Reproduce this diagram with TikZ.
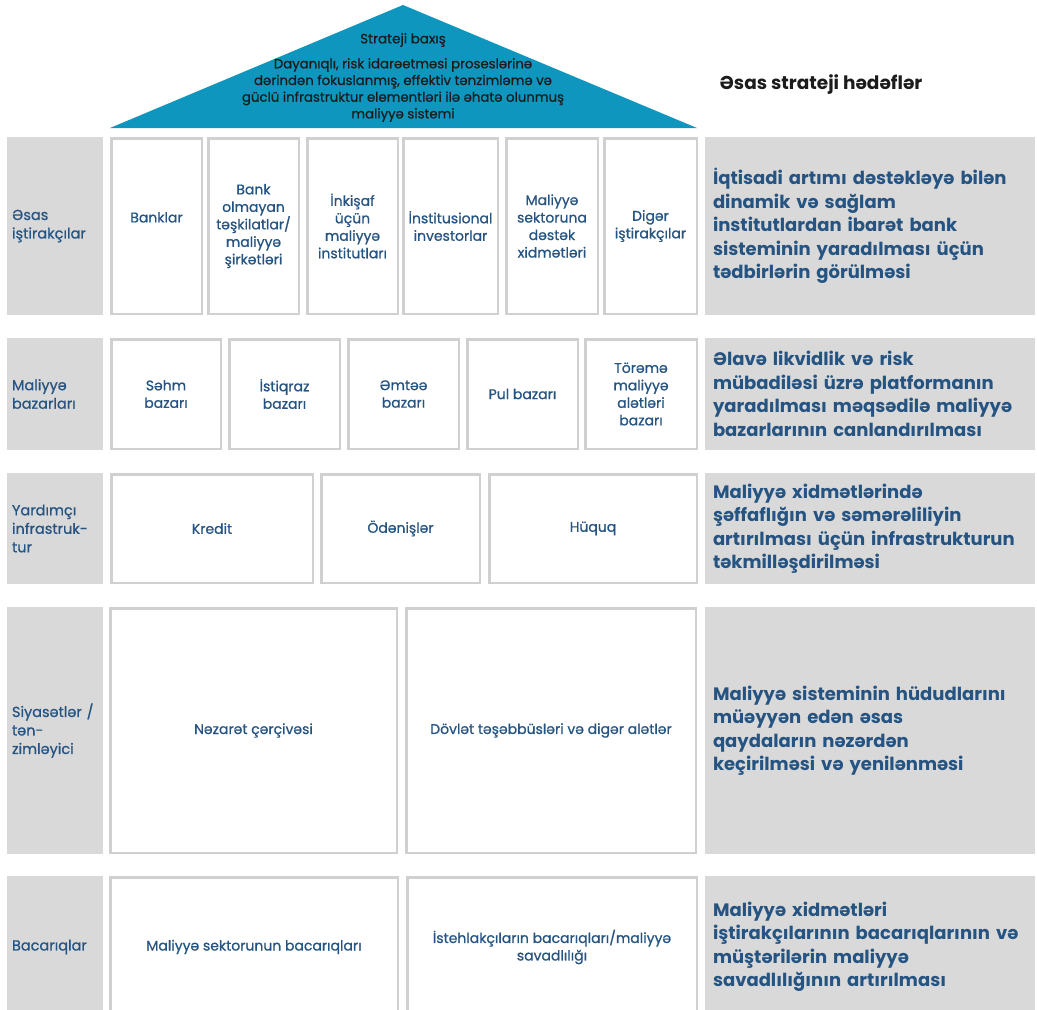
\documentclass[tikz,border=0pt]{standalone}
\usepackage{fontspec}
\setmainfont{Poppins}
\newfontfamily\mediumfont{Poppins}[FakeBold=0.8]
\usetikzlibrary{positioning}
\definecolor{roofblue}{RGB}{14,150,190}
\definecolor{textblue}{RGB}{38,84,130}
\definecolor{panelgrey}{RGB}{217,217,217}
\definecolor{edgegrey}{RGB}{208,208,208}
\definecolor{darktext}{RGB}{28,28,28}

\begin{document}
\begin{tikzpicture}[x=1pt, y=-1pt,
    lbl/.style={fill=panelgrey, inner sep=0pt, minimum width=96pt, text width=86pt, align=left, text=textblue, font=\mediumfont\fontsize{14.5}{18.5}\selectfont},
    cell/.style={draw=edgegrey, line width=2.5pt, fill=white, inner sep=1pt, align=center, text=textblue, font=\mediumfont\fontsize{14}{17.5}\selectfont},
    goal/.style={fill=panelgrey, inner xsep=8pt, inner ysep=0pt, minimum width=330pt, text width=314pt, align=left, text=textblue, font=\bfseries\fontsize{18}{23.5}\selectfont},
]
    \useasboundingbox (0,0) rectangle (1037,1010);

    % roof
    \fill[roofblue] (110,128) -- (403,5) -- (697,128) -- cycle;
    \node[text=darktext, font=\mediumfont\fontsize{13.5}{16}\selectfont] (vision) at (403,40) {Strateji baxış};
    \node[text=darktext, align=center, font=\mediumfont\fontsize{13.3}{16.7}\selectfont] (visiontext) at (403,90)
        {Dayanıqlı, risk idarəetməsi proseslərinə\\dərindən fokuslanmış, effektiv tənzimləmə və\\güclü infrastruktur elementləri ilə əhatə olunmuş\\maliyyə sistemi};
    \node[anchor=west, text=darktext, font=\bfseries\fontsize{18.5}{22}\selectfont] (goals) at (716,85) {Əsas strateji hədəflər};

    % row 1
    \node[lbl, minimum height=178pt] (l1) at (55,226) {Əsas\\iştirakçılar};
    \node[cell, minimum width=90.5pt, minimum height=175.5pt] (p1) at (156.5,226) {Banklar\\~};
    \node[cell, minimum width=90.5pt, minimum height=175.5pt] (p2) at (253.5,226) {Bank\\olmayan\\təşkilatlar/\\maliyyə\\şirkətləri};
    \node[cell, minimum width=90.5pt, minimum height=175.5pt] (p3) at (352.5,226) {İnkişaf\\üçün\\maliyyə\\institutları};
    \node[cell, minimum width=94.5pt, minimum height=175.5pt] (p4) at (450.5,226) {İnstitusional\\investorlar};
    \node[cell, minimum width=91.5pt, minimum height=175.5pt] (p5) at (552,226) {Maliyyə\\sektoruna\\dəstək\\xidmətləri};
    \node[cell, minimum width=92.5pt, minimum height=175.5pt] (p6) at (650.5,226) {Digər\\iştirakçılar};
    \node[goal, minimum height=178pt] (h1) at (870,226)
        {İqtisadi artımı dəstəkləyə bilən\\dinamik və sağlam\\institutlardan ibarət bank\\sisteminin yaradılması üçün\\tədbirlərin görülməsi};

    % row 2
    \node[lbl, minimum height=112pt] (l2) at (55,394) {Maliyyə\\bazarları};
    \node[cell, minimum width=109.5pt, minimum height=109.5pt] (m1) at (166,394) {Səhm\\bazarı};
    \node[cell, minimum width=110.5pt, minimum height=109.5pt] (m2) at (284.5,394) {İstiqraz\\bazarı};
    \node[cell, minimum width=110.5pt, minimum height=109.5pt] (m3) at (403.5,394) {Əmtəə\\bazarı};
    \node[cell, minimum width=110.5pt, minimum height=109.5pt] (m4) at (522.5,394) {Pul bazarı};
    \node[cell, minimum width=111.5pt, minimum height=109.5pt] (m5) at (641,394) {Törəmə\\maliyyə\\alətləri\\bazarı};
    \node[goal, minimum height=112pt] (h2) at (870,394)
        {Əlavə likvidlik və risk\\mübadiləsi üzrə platformanın\\yaradılması məqsədilə maliyyə\\bazarlarının canlandırılması};

    % row 3
    \node[lbl, minimum height=111pt] (l3) at (55,528.5) {Yardımçı\\infrastruk-\\tur};
    \node[cell, minimum width=201.5pt, minimum height=108.5pt] (s1) at (212,528.5) {Kredit};
    \node[cell, minimum width=158.5pt, minimum height=108.5pt] (s2) at (400.5,528.5) {Ödənişlər};
    \node[cell, minimum width=207.5pt, minimum height=108.5pt] (s3) at (593,528.5) {Hüquq};
    \node[goal, minimum height=111pt] (h3) at (870,528.5)
        {Maliyyə xidmətlərində\\şəffaflığın və səmərəliliyin\\artırılması üçün infrastrukturun\\təkmilləşdirilməsi};

    % row 4
    \node[lbl, minimum height=247pt] (l4) at (55,730.5) {Siyasətlər /\\tən-\\zimləyici};
    \node[cell, minimum width=286.5pt, minimum height=244.5pt] (g1) at (253.5,730.5) {Nəzarət çərçivəsi};
    \node[cell, minimum width=289.5pt, minimum height=244.5pt] (g2) at (551,730.5) {Dövlət təşəbbüsləri və digər alətlər};
    \node[goal, minimum height=247pt] (h4) at (870,730.5)
        {Maliyyə sisteminin hüdudlarını\\müəyyən edən əsas\\qaydaların nəzərdən\\keçirilməsi və yenilənməsi};

    % row 5
    \node[lbl, minimum height=142pt] (l5) at (55,947) {Bacarıqlar};
    \node[cell, minimum width=287.5pt, minimum height=139.5pt] (c1) at (254,947) {Maliyyə sektorunun bacarıqları};
    \node[cell, minimum width=289.5pt, minimum height=139.5pt] (c2) at (552,947) {İstehlakçıların bacarıqları/maliyyə\\savadlılığı};
    \node[goal, minimum height=142pt] (h5) at (870,947)
        {Maliyyə xidmətləri\\iştirakçılarının bacarıqlarının və\\müştərilərin maliyyə\\savadlılığının artırılması};
\end{tikzpicture}
\end{document}
